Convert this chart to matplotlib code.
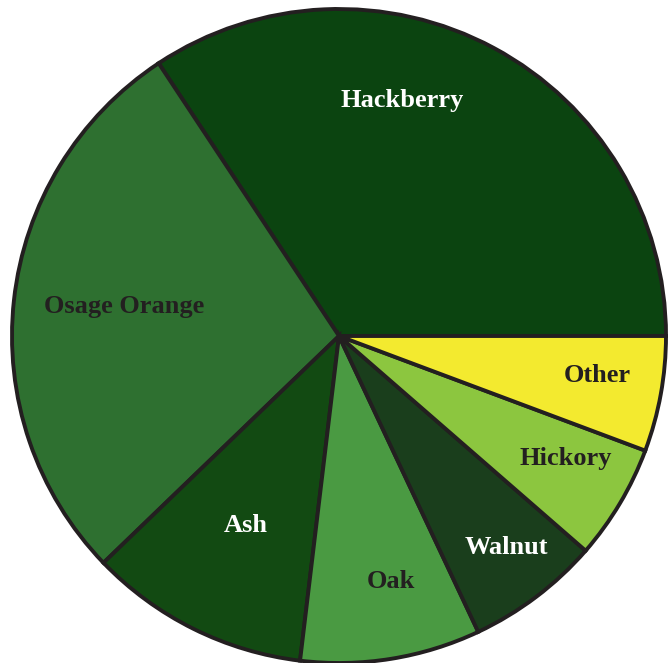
import matplotlib.pyplot as plt

# Share of trees by species
species = ["Hackberry", "Osage Orange", "Ash", "Oak", "Walnut", "Hickory", "Other"]
shares = [34.3, 27.9, 10.9, 8.9, 6.6, 5.7, 5.7]
colors = ["#0b4410", "#2e7030", "#124a12", "#4a9a42", "#1a3e1c", "#8cc63f", "#f3ea2f"]
label_colors = ["white", "#231f20", "white", "#231f20", "white", "#231f20", "#231f20"]

# label anchor points (pixel coords, y from top)
label_xy = [(402, 100), (124, 306), (246, 525), (391, 581), (506, 548), (566, 459), (597, 376)]

W, H = 671, 663
fig = plt.figure(figsize=(W / 100, H / 100), dpi=100)
ax = fig.add_axes([0, 0, 1, 1])

ax.pie(shares, colors=colors, startangle=0, counterclock=True,
       center=(339, H - 336), radius=327, frame=True,
       wedgeprops=dict(edgecolor="#231f20", linewidth=2.8, joinstyle="miter"))
ax.set_xlim(0, W)
ax.set_ylim(0, H)
ax.set_aspect("equal")
ax.axis("off")

for name, (x, y), c in zip(species, label_xy, label_colors):
    ax.text(x, H - y, name, ha="center", va="center", color=c,
            fontsize=19, fontweight="bold", family=["Liberation Serif", "DejaVu Serif"])

fig.savefig("out.png", dpi=100)
